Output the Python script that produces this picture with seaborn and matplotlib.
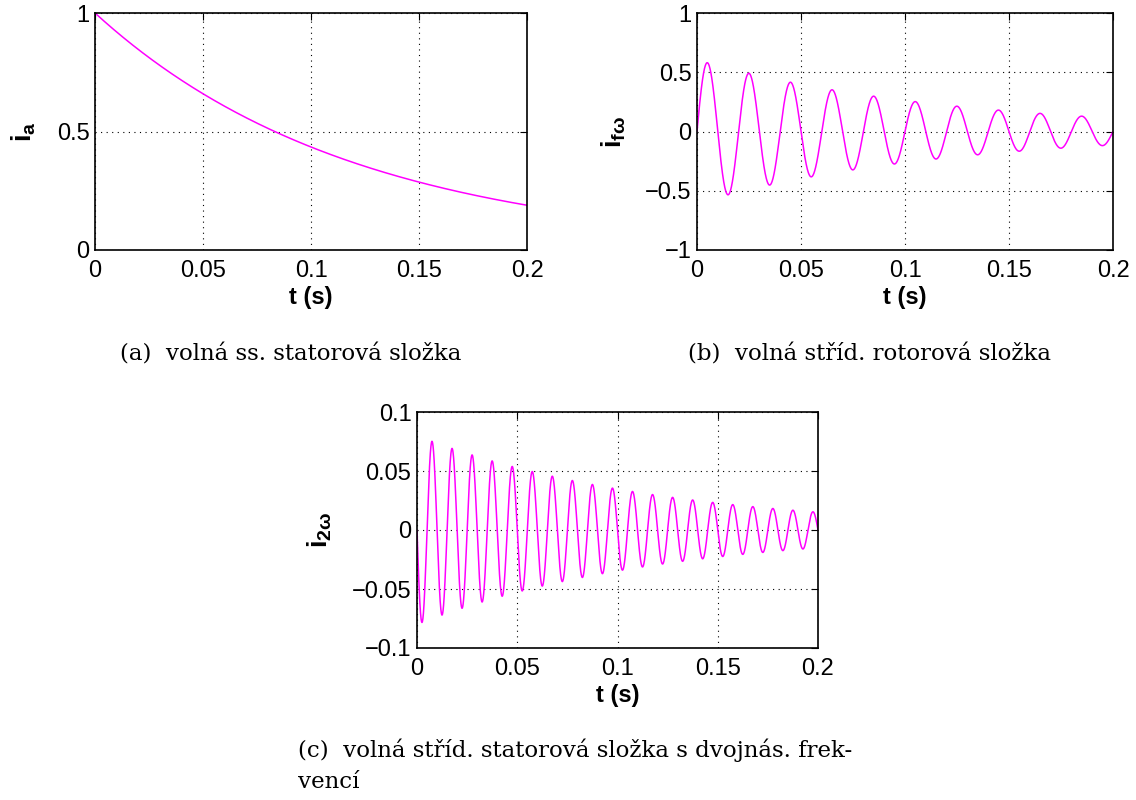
import numpy as np
import pandas as pd
import matplotlib
matplotlib.use("Agg")
import matplotlib.pyplot as plt
import seaborn as sns

# ---- values ----
panels = ["a", "b", "c"]
ylabels = [r"$\mathbf{i_a}$", r"$\mathbf{i_{f\omega}}$", r"$\mathbf{i_{2\omega}}$"]
captions = ["(a)  volná ss. statorová složka",
            "(b)  volná stříd. rotorová složka",
            "(c)  volná stříd. statorová složka s dvojnás. frek-\nvencí"]
# initial amplitude, decay time constant (s), oscillation frequency (Hz), sign
amplitudes = [1.0, 0.605, 0.08]
time_constants = [0.12, 0.12, 0.12]
frequencies = [0.0, 50.0, 100.0]
signs = [1.0, 1.0, -1.0]
yticks = [[0, 0.5, 1], [-1, -0.5, 0, 0.5, 1], [-0.1, -0.05, 0, 0.05, 0.1]]
ylims = [(0, 1), (-1, 1), (-0.1, 0.1)]
xticks = [0, 0.05, 0.1, 0.15, 0.2]
xticklabels = ["0", "0.05", "0.1", "0.15", "0.2"]
xlim = (0, 0.2)

t = np.linspace(0, 0.2, 4001)
frames = []
for p, A, tau, f, s in zip(panels, amplitudes, time_constants, frequencies, signs):
    if f == 0:
        y = A * np.exp(-t / tau)
    else:
        y = s * A * np.exp(-t / tau) * np.sin(2 * np.pi * f * t)
    frames.append(pd.DataFrame({"t": t, "i": y, "panel": p}))
df = pd.concat(frames, ignore_index=True)

sns.set_theme(style="white")
plt.rcParams["font.family"] = ["Liberation Sans", "DejaVu Sans"]
plt.rcParams["text.color"] = "black"
plt.rcParams["axes.labelcolor"] = "black"
plt.rcParams["mathtext.fontset"] = "custom"
plt.rcParams["mathtext.bf"] = "Liberation Sans:bold"
plt.rcParams["mathtext.rm"] = "Liberation Sans"
plt.rcParams["mathtext.it"] = "Liberation Sans:italic"

W, H = 1136, 800
fig = plt.figure(figsize=(W / 100, H / 100), dpi=100)

boxes = [(95, 13, 527, 250), (697, 13, 1113, 250), (417, 412, 818, 648)]
cap_pos = [(291, 355, "center", "center"), (870, 355, "center", "center"),
           (298, 738, "left", "top")]
ylabel_x = [38, 628, 334]

for k, p in enumerate(panels):
    x0, y0, x1, y1 = boxes[k]
    ax = fig.add_axes([x0 / W, 1 - y1 / H, (x1 - x0) / W, (y1 - y0) / H])
    sub = df[df["panel"] == p]
    sns.lineplot(data=sub, x="t", y="i", ax=ax, color="#ff00ff", linewidth=1.1,
                 estimator=None, sort=False)
    ax.set_xlim(*xlim)
    ax.set_ylim(*ylims[k])
    ax.set_xticks(xticks)
    ax.set_xticklabels(xticklabels)
    ax.set_yticks(yticks[k])
    ax.set_yticklabels([("%g" % v).replace("-", "\u2212") for v in yticks[k]])
    ax.grid(True, color="black", linestyle=(0, (1, 4)), linewidth=0.8)
    ax.tick_params(direction="in", length=5, width=0.8, top=True, right=True,
                   labelsize=17, colors="black")
    ax.tick_params(axis="x", pad=7)
    ax.tick_params(axis="y", pad=4)
    for sp in ax.spines.values():
        sp.set_color("black")
        sp.set_linewidth(1.2)
    ax.set_xlabel("t (s)", fontsize=17, fontweight="bold", labelpad=3)
    ax.set_ylabel(ylabels[k], fontsize=20)
    ax.yaxis.set_label_coords((ylabel_x[k] - x0) / (x1 - x0), 0.5)
    cx, cy, ha, va = cap_pos[k]
    fig.text(cx / W, 1 - cy / H, captions[k], ha=ha, va=va, color="black",
             fontsize=16.5, family=["DejaVu Serif"], linespacing=1.55)

fig.savefig("out.png", dpi=100, facecolor="white")
